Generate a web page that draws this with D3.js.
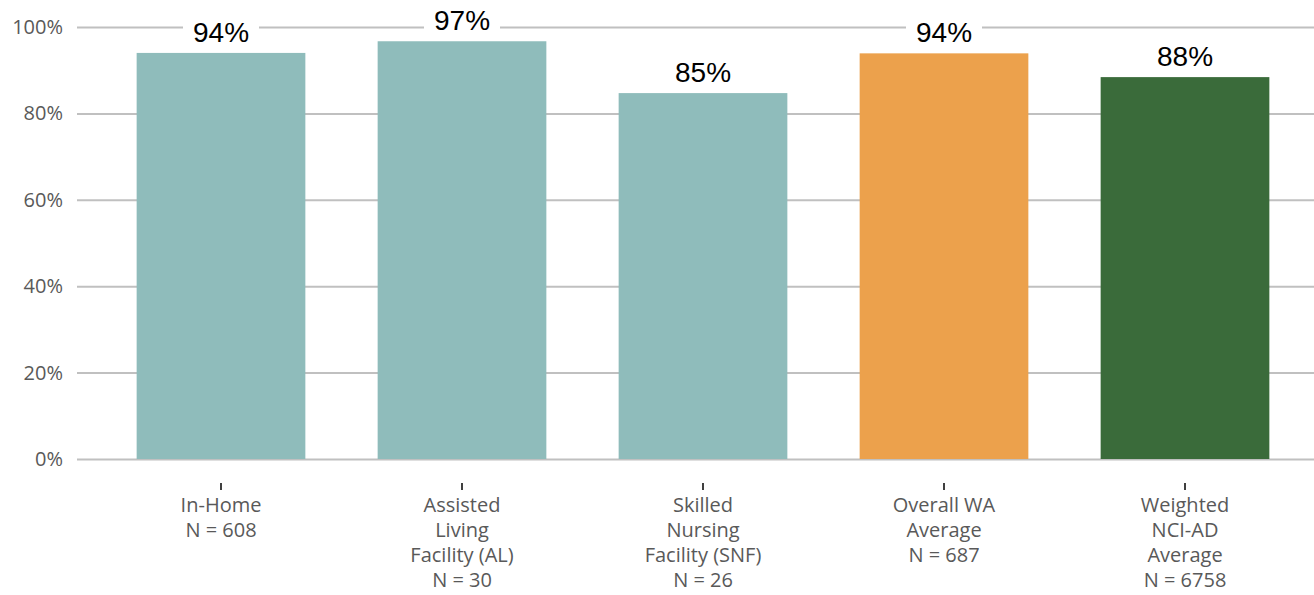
<!DOCTYPE html>
<html lang="en">
<head>
  <meta charset="UTF-8">
  <title>bar chart</title>
  <script src="https://cdn.jsdelivr.net/npm/d3@7"></script>
  <style>
    body { margin: 0; background: #fff; }
  </style>
</head>
<body>
<svg></svg>
<script>
  const categories = [
    ["In-Home", "N = 608"],
    ["Assisted", "Living", "Facility (AL)", "N = 30"],
    ["Skilled", "Nursing", "Facility (SNF)", "N = 26"],
    ["Overall WA", "Average", "N = 687"],
    ["Weighted", "NCI-AD", "Average", "N = 6758"]
  ]
  const values = [0.94, 0.967, 0.847, 0.939, 0.884]
  const colors = ["#8fbcbb", "#8fbcbb", "#8fbcbb", "#eca14c", "#3a6b3a"]
  const yTicks = [0, 0.2, 0.4, 0.6, 0.8, 1]

  const width = 1314, height = 595

  const svg = d3.select('svg')
      .attr('width', width)
      .attr('height', height)

  const x = d3.scaleBand()
      .domain(d3.range(values.length))
      .range([100.5, 1305.5])
      .paddingInner(0.3)
      .paddingOuter(0.15)

  const y = d3.scaleLinear()
      .domain([0, 1])
      .range([459, 27])

  // gridlines + y labels
  const yAxis = svg.append("g")
      .attr("transform", "translate(77,0)")
      .call(d3.axisLeft(y).tickValues(yTicks).tickFormat(d3.format(".0%")).tickSize(-(width - 77)).tickPadding(14))
      .call(g => g.select(".domain").remove())
  yAxis.selectAll(".tick line")
      .attr("stroke", "#c0c0c0")
      .attr("stroke-width", 2)
  yAxis.selectAll(".tick text")
      .attr("fill", "#595959")
      .attr("font-family", "'Open Sans', sans-serif")
      .attr("font-size", 20)

  svg.append("g")
      .selectAll("rect")
      .data(values)
      .join("rect")
      .attr("x", (d, i) => x(i))
      .attr("y", d => y(d))
      .attr("width", x.bandwidth())
      .attr("height", d => y(0) - y(d))
      .attr("fill", (d, i) => colors[i])

  // value labels with white box behind
  const labels = svg.append("g")
      .selectAll("g")
      .data(values)
      .join("g")
      .attr("transform", (d, i) => `translate(${x(i) + x.bandwidth() / 2},${y(d) - 11})`)
  labels.append("rect")
      .attr("x", -38)
      .attr("y", -26)
      .attr("width", 76)
      .attr("height", 30)
      .attr("fill", "#fff")
  labels.append("text")
      .attr("text-anchor", "middle")
      .attr("font-family", "'Liberation Sans', Arial, sans-serif")
      .attr("font-size", 28)
      .attr("fill", "#000")
      .text(d => d3.format(".0%")(d))

  // x axis ticks and labels
  const xg = svg.append("g")
      .selectAll("g")
      .data(categories)
      .join("g")
      .attr("transform", (d, i) => `translate(${x(i) + x.bandwidth() / 2},0)`)
  xg.append("line")
      .attr("y1", 483)
      .attr("y2", 490)
      .attr("stroke", "#404040")
      .attr("stroke-width", 2)
  xg.append("text")
      .attr("text-anchor", "middle")
      .attr("font-family", "'Open Sans', sans-serif")
      .attr("font-size", 20)
      .attr("fill", "#595959")
      .selectAll("tspan")
      .data(d => d)
      .join("tspan")
      .attr("x", 0)
      .attr("y", (d, i) => 512 + i * 25)
      .text(d => d)
</script>
</body>
</html>
